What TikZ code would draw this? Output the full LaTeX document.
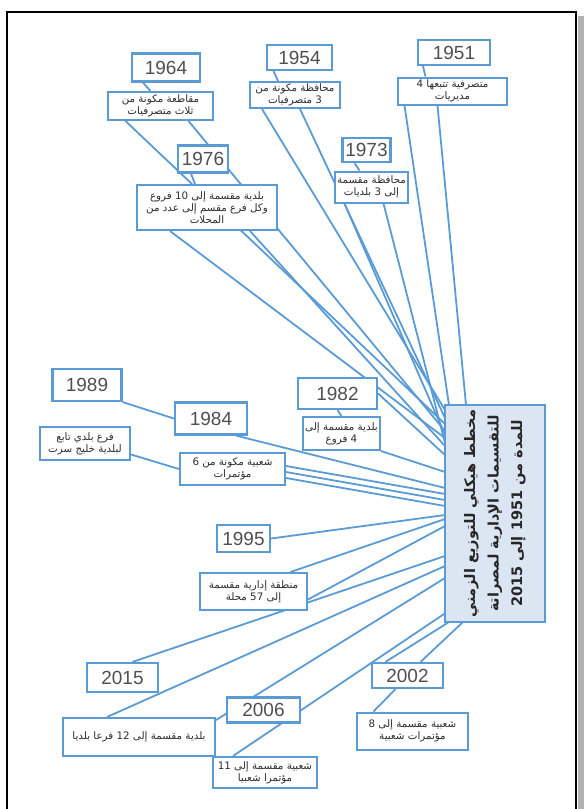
\documentclass[tikz,border=0pt]{standalone}
\usepackage{fontspec}
\setmainfont{Liberation Sans}
\newfontfamily\ar[Script=Arabic]{DejaVu Sans}
\TeXXeTstate=1
\usetikzlibrary{calc}
\definecolor{bl}{RGB}{91,155,213}
\definecolor{yr}{RGB}{80,80,80}
\definecolor{tx}{RGB}{45,45,45}
\definecolor{mf}{RGB}{220,230,242}
\newcommand\RL[1]{\beginR #1\endR}
\pgfdeclarelayer{bg}
\pgfsetlayers{bg,main}
\begin{document}
\begin{tikzpicture}[x=1pt,y=-1pt,
 yearbox/.style={draw=bl,line width=2.2pt,fill=white,text=yr,font=\fontsize{19}{22}\selectfont,inner sep=0pt},
 descbox/.style={draw=bl,line width=2pt,fill=white,text=tx,font=\ar\fontsize{10.3}{11.8}\selectfont,align=center,inner sep=0pt},
 link/.style={draw=bl,line width=1.8pt}]
\useasboundingbox (0,0) rectangle (588,809);
% frame
\fill[black!30] (578,16) rectangle (584,809);
\draw[line width=2.5pt] (7,809) -- (7,12) -- (576,12) -- (576,809);
% main box
\node[draw=bl,line width=2.2pt,fill=mf,rotate=90,minimum width=217pt,minimum height=100pt,align=center,
  font=\ar\bfseries\fontsize{14.5}{23.5}\selectfont,text=black!85] (main) at (495,513.5)
  {\RL{مخطط هيكلي للتوزيع الزمني}\\\RL{للتقسيمات الإدارية لمصراتة}\\\RL{للمدة من 1951 إلى 2015}};
% year boxes
\node[yearbox,minimum width=72pt,minimum height=25pt] (y1951) at (454,52.5) {1951};
\node[yearbox,minimum width=65pt,minimum height=25pt] (y1954) at (299.5,57.5) {1954};
\node[yearbox,minimum width=68pt,minimum height=28pt] (y1964) at (166,67.5) {1964};
\node[yearbox,minimum width=50pt,minimum height=27pt] (y1976) at (203,159) {1976};
\node[yearbox,minimum width=48pt,minimum height=24pt] (y1973) at (366.5,150) {1973};
\node[yearbox,minimum width=79pt,minimum height=31pt] (y1982) at (337.5,393.5) {1982};
\node[yearbox,minimum width=72pt,minimum height=32pt] (y1984) at (211,418.5) {1984};
\node[yearbox,minimum width=69pt,minimum height=32pt] (y1989) at (87,385) {1989};
\node[yearbox,minimum width=53pt,minimum height=27pt] (y1995) at (243.5,538.5) {1995};
\node[yearbox,minimum width=71pt,minimum height=29pt] (y2015) at (122.5,677.5) {2015};
\node[yearbox,minimum width=73pt,minimum height=25pt] (y2006) at (263.5,710) {2006};
\node[yearbox,minimum width=71pt,minimum height=25pt] (y2002) at (407.5,675.5) {2002};
% description boxes
\node[descbox,minimum width=109pt,minimum height=27pt] (d1951) at (452.5,91) {\RL{متصرفية تتبعها 4}\\\RL{مديريات}};
\node[descbox,minimum width=90pt,minimum height=26pt] (d1954) at (295,95) {\RL{محافظة مكونة من}\\\RL{3 متصرفيات}};
\node[descbox,minimum width=105pt,minimum height=28pt] (d1964) at (160.5,106) {\RL{مقاطعة مكونة من}\\\RL{ثلاث متصرفيات}};
\node[descbox,minimum width=140pt,minimum height=45pt] (d1976) at (207,207.5) {\RL{بلدية مقسمة إلى 10 فروع}\\\RL{وكل فرع مقسم إلى عدد من}\\\RL{المحلات}};
\node[descbox,minimum width=73pt,minimum height=31pt] (d1973) at (371.5,187) {\RL{محافظة مقسمة}\\\RL{إلى 3 بلديات}};
\node[descbox,minimum width=77pt,minimum height=33pt] (d1982) at (341.5,433.5) {\RL{بلدية مقسمة إلى}\\\RL{4 فروع}};
\node[descbox,minimum width=105pt,minimum height=32pt] (d1984) at (232.5,469) {\RL{شعبية مكونة من 6}\\\RL{مؤتمرات}};
\node[descbox,minimum width=90pt,minimum height=33pt] (d1989) at (85,443.5) {\RL{فرع بلدي تابع}\\\RL{لبلدية خليج سرت}};
\node[descbox,minimum width=107pt,minimum height=37pt] (d1995) at (253.5,591.5) {\RL{منطقة إدارية مقسمة}\\\RL{إلى 57 محلة}};
\node[descbox,minimum width=152pt,minimum height=38pt] (d2015) at (139,737) {\RL{بلدية مقسمة إلى 12 فرعا بلديا}};
\node[descbox,minimum width=104pt,minimum height=31pt] (d2006) at (265,772.5) {\RL{شعبية مقسمة إلى 11}\\\RL{مؤتمرا شعبيا}};
\node[descbox,minimum width=111pt,minimum height=37pt] (d2002) at (412.5,731) {\RL{شعبية مقسمة إلى 8}\\\RL{مؤتمرات شعبية}};
% end points on the main box
\coordinate (e1) at (449,405);
\coordinate (e2) at (466,405);
\coordinate (e3) at (445,410);
\coordinate (e4) at (445,418);
\coordinate (e5) at (445,424);
\coordinate (e6) at (445,431);
\coordinate (e7) at (445,438);
\coordinate (e8) at (445,446);
\coordinate (e9) at (445,435);
\coordinate (e10) at (445,443);
\coordinate (e11) at (445,455);
\coordinate (e12) at (445,472);
\coordinate (e13) at (445,488);
\coordinate (e14) at (445,494);
\coordinate (e15) at (445,500);
\coordinate (e16) at (445,506);
\coordinate (e17) at (445,515);
\coordinate (e18) at (445,519);
\coordinate (e19) at (445,526);
\coordinate (e20) at (445,556);
\coordinate (e21) at (445,566);
\coordinate (e22) at (445,578);
\coordinate (e23) at (447,612);
\coordinate (e24) at (449,622);
\coordinate (e25) at (463,622);
\begin{pgfonlayer}{bg}
\path[link] ([xshift=-31pt]y1951.south) -- ([xshift=-27pt]d1951.north);
\path[link] ([xshift=-48pt]d1951.south) -- (e1);
\path[link] ([xshift=-15pt]d1951.south) -- (e2);
\path[link] ([xshift=-26pt]y1954.south) -- ([xshift=-17pt]d1954.north);
\path[link] ([xshift=-33pt]d1954.south) -- (e3);
\path[link] ([xshift=5pt]d1954.south) -- (e4);
\path[link] ([xshift=-23pt]y1964.south) -- ([xshift=-10pt]d1964.north);
\path[link] ([xshift=-35pt]d1964.south) -- (e5);
\path[link] ([xshift=28pt]d1964.south) -- (e6);
\path[link] ([xshift=-12pt]y1976.south) -- ([xshift=-12pt]d1976.north);
\path[link] ([xshift=-37pt]d1976.south) -- (e7);
\path[link] ([xshift=43pt]d1976.south) -- (e8);
\path[link] ([xshift=-12pt]y1973.south) -- ([xshift=-12pt]d1973.north);
\path[link] ([xshift=-27pt]d1973.south) -- (e9);
\path[link] ([xshift=12pt]d1973.south) -- (e10);
\path[link] (y1982.east) -- (e11);
\path[link] (y1982.south) -- (d1982.north);
\path[link] (d1982.south east) -- (e12);
\path[link] (y1989.south east) -- (y1984.west);
\path[link] ([xshift=25pt]y1984.south) -- (e13);
\path[link] ([yshift=-11pt]d1989.east) -- (d1984.west);
\path[link] ([yshift=3pt]d1984.east) -- (e14);
\path[link] ([yshift=-3pt]d1984.east) -- (e15);
\path[link] ([yshift=-9pt]d1984.east) -- (e16);
\path[link] (y1995.east) -- (e17);
\path[link] ([xshift=37pt]d1995.north) -- (e18);
\path[link] ([yshift=-8pt]d1995.east) -- (e19);
\path[link] ([xshift=10pt]y2015.north) -- (e20);
\path[link] ([xshift=-32pt]d2015.north) -- (e21);
\path[link] ([yshift=-3pt]d2015.north east) -- (e22);
\path[link] ([xshift=-32pt]d2006.north) -- (e23);
\path[link] ([xshift=-22pt]y2002.north) -- (e24);
\path[link] ([xshift=13pt]y2002.north) -- (e25);
\path[link] ([xshift=-39pt]d2002.north) -- ([xshift=-12pt]y2002.south);
\end{pgfonlayer}
\end{tikzpicture}
\end{document}
